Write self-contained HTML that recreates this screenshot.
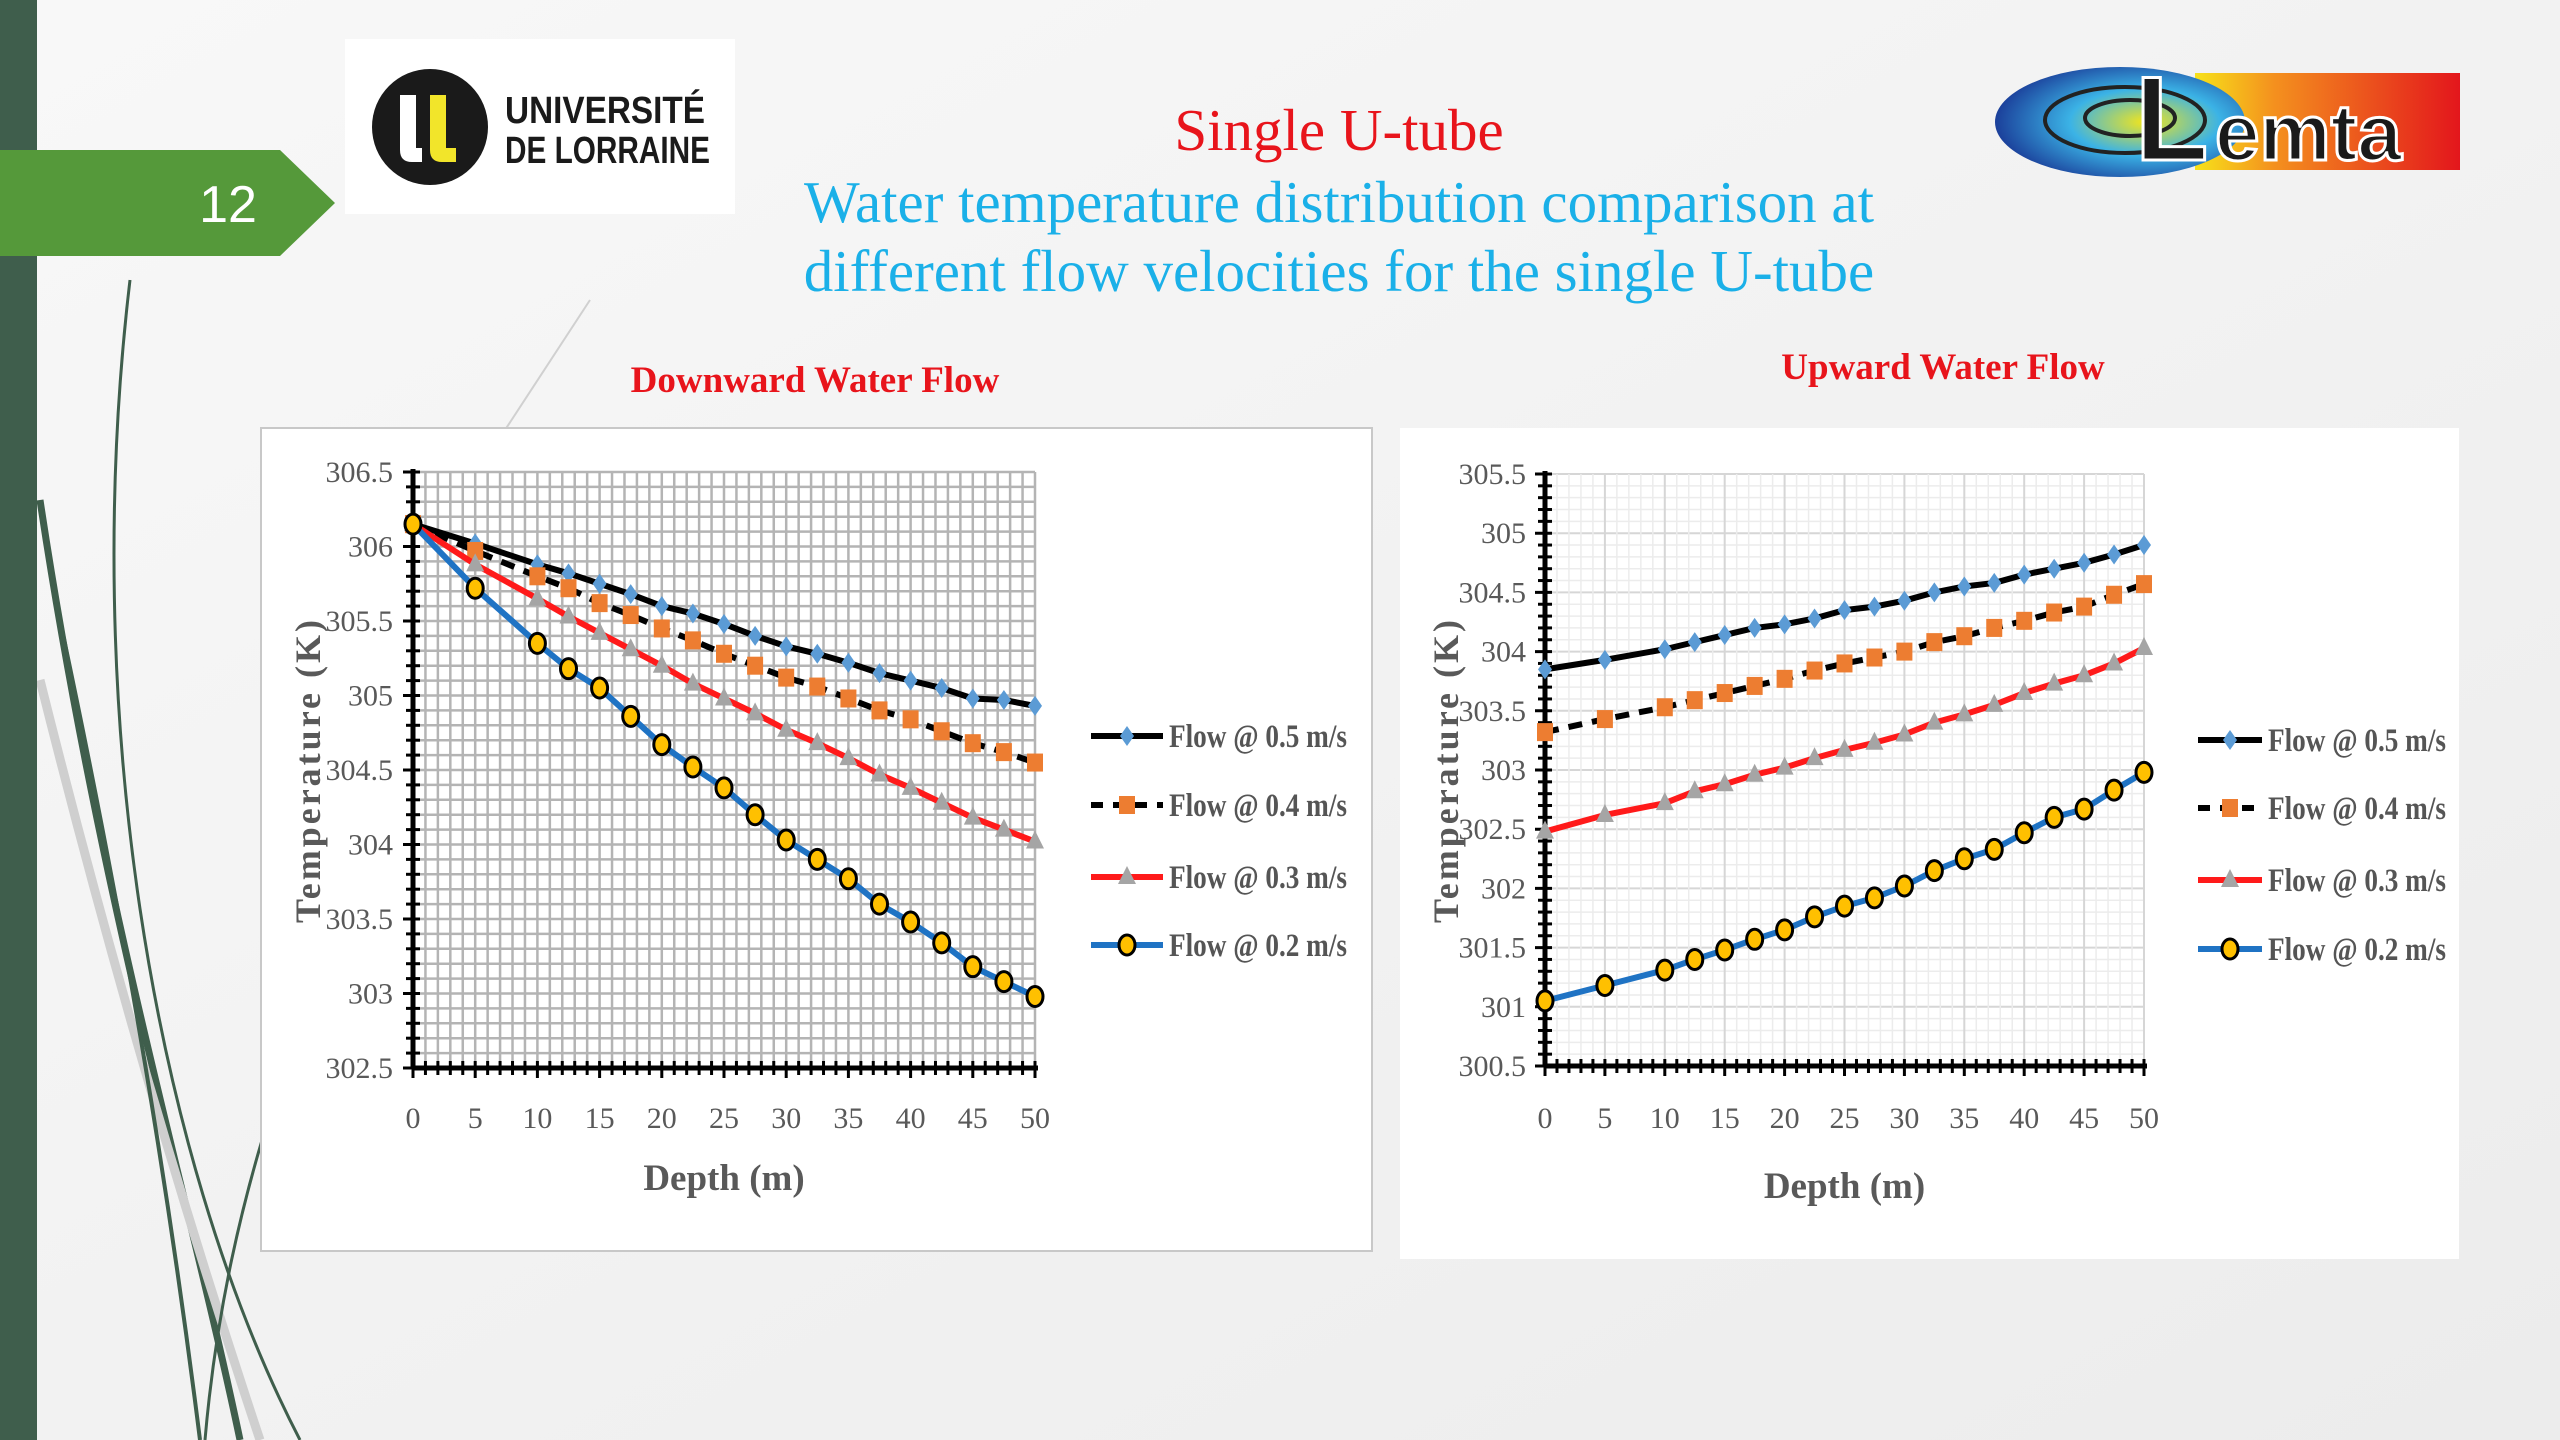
<!DOCTYPE html>
<html><head><meta charset="utf-8"><style>
html,body{margin:0;padding:0;width:2560px;height:1440px;overflow:hidden;background:#f3f3f3;font-family:"Liberation Serif",serif}
svg{position:absolute;left:0;top:0}
</style></head><body>
<svg id="s" width="2560" height="1440" viewBox="0 0 2560 1440" xmlns="http://www.w3.org/2000/svg">
<defs>
<linearGradient id="bg" x1="0" y1="0" x2="1" y2="1"><stop offset="0" stop-color="#f8f8f8"/><stop offset="1" stop-color="#ececec"/></linearGradient>
<linearGradient id="lem" x1="0" x2="1"><stop offset="0" stop-color="#f7e21a"/><stop offset="0.3" stop-color="#f4901e"/><stop offset="1" stop-color="#e3161c"/></linearGradient>
<radialGradient id="swirl" cx="0.6" cy="0.5" r="0.6"><stop offset="0" stop-color="#f2e51c"/><stop offset="0.5" stop-color="#3bb3e6"/><stop offset="1" stop-color="#1b3f9a"/></radialGradient>
</defs>
<rect width="2560" height="1440" fill="url(#bg)"/>
<g fill="none">
<path d="M130 280 C80 700,150 1150,300 1440" stroke="#3f5e4c" stroke-width="3"/>
<path d="M40 500 C100 900,190 1200,240 1440" stroke="#3f5e4c" stroke-width="7"/>
<path d="M40 680 C120 1000,200 1260,260 1440" stroke="#cfcfcf" stroke-width="9"/>
<path d="M60 620 C130 950,170 1200,200 1440" stroke="#3f5e4c" stroke-width="4"/>
<path d="M415 750 C330 950,230 1150,205 1440" stroke="#3f5e4c" stroke-width="3"/>
<path d="M590 300 L420 560" stroke="#d0d0d0" stroke-width="2"/>
</g>
<rect x="0" y="0" width="37" height="1440" fill="#3f5e4c"/>
<polygon points="0,150 280,150 335,203 280,256 0,256" fill="#55993a"/>
<text x="228" y="222" font-family="Liberation Sans,sans-serif" font-size="52" fill="#fff" text-anchor="middle">12</text>
<g>
<rect x="345" y="39" width="390" height="175" fill="#fff"/>
<circle cx="430" cy="127" r="58" fill="#1a1a1a"/>
<path d="M400 95 v55 q0 12 12 12 h10 v-14 h-6 v-53z" fill="#fff"/>
<path d="M430 95 v55 q0 12 12 12 h14 v-14 h-10 v-53z" fill="#f2e52a"/>
<text x="505" y="123" font-family="Liberation Sans,sans-serif" font-weight="bold" font-size="38" fill="#1a1a1a" textLength="200" lengthAdjust="spacingAndGlyphs">UNIVERSITÉ</text>
<text x="505" y="163" font-family="Liberation Sans,sans-serif" font-weight="bold" font-size="38" fill="#1a1a1a" textLength="205" lengthAdjust="spacingAndGlyphs">DE LORRAINE</text>
</g>
<g>
<rect x="2195" y="73" width="265" height="97" fill="url(#lem)"/>
<ellipse cx="2120" cy="122" rx="125" ry="55" fill="url(#swirl)"/>
<ellipse cx="2125" cy="120" rx="80" ry="33" fill="none" stroke="#222" stroke-width="4"/>
<ellipse cx="2130" cy="118" rx="45" ry="18" fill="none" stroke="#222" stroke-width="4"/>
<text x="2135" y="160" font-family="Liberation Sans,sans-serif" font-weight="bold" font-size="120" fill="#1a1a1a" stroke="#fff" stroke-width="3">L</text>
<text x="2215" y="160" font-family="Liberation Sans,sans-serif" font-weight="bold" font-size="80" fill="#1a1a1a" stroke="#fff" stroke-width="3">emta</text>
</g>
<text x="1339" y="150" font-size="59" fill="#e8141b" text-anchor="middle">Single U-tube</text>
<text x="1339" y="222" font-size="59" fill="#1ab0e8" text-anchor="middle">Water temperature distribution comparison at</text>
<text x="1339" y="291" font-size="59" fill="#1ab0e8" text-anchor="middle">different flow velocities for the single U-tube</text>
<text x="815" y="392" font-size="37" font-weight="bold" fill="#e8141b" text-anchor="middle">Downward Water Flow</text>
<text x="1943" y="379" font-size="37" font-weight="bold" fill="#e8141b" text-anchor="middle">Upward Water Flow</text>
<rect x="261" y="428" width="1111" height="823" fill="#fff" stroke="#c8c8c8" stroke-width="2"/>
<rect x="1400" y="428" width="1059" height="831" fill="#fff"/>
<g id="g1"></g><g id="g2"></g>
</svg>
<script>
const depths = [0,5,10,12.5,15,17.5,20,22.5,25,27.5,30,32.5,35,37.5,40,42.5,45,47.5,50];
const seriesNames = ["Flow @ 0.5 m/s","Flow @ 0.4 m/s","Flow @ 0.3 m/s","Flow @ 0.2 m/s"];
const down05 = [306.15,306.02,305.88,305.82,305.75,305.68,305.6,305.55,305.48,305.4,305.33,305.28,305.22,305.15,305.1,305.05,304.98,304.97,304.93];
const down04 = [306.15,305.97,305.8,305.72,305.62,305.54,305.45,305.37,305.28,305.2,305.12,305.06,304.98,304.9,304.84,304.76,304.68,304.62,304.55];
const down03 = [306.15,305.88,305.65,305.53,305.42,305.31,305.2,305.08,304.98,304.88,304.77,304.68,304.58,304.47,304.38,304.28,304.18,304.1,304.02];
const down02 = [306.15,305.72,305.35,305.18,305.05,304.86,304.67,304.52,304.38,304.2,304.03,303.9,303.77,303.6,303.48,303.34,303.18,303.08,302.98];
const up05 = [303.85,303.93,304.02,304.08,304.14,304.2,304.23,304.28,304.35,304.38,304.43,304.5,304.55,304.58,304.65,304.7,304.75,304.82,304.9];
const up04 = [303.32,303.43,303.53,303.59,303.65,303.71,303.77,303.84,303.9,303.95,304.0,304.08,304.13,304.2,304.26,304.33,304.38,304.48,304.57];
const up03 = [302.48,302.62,302.72,302.82,302.88,302.96,303.02,303.1,303.17,303.23,303.3,303.4,303.47,303.55,303.65,303.73,303.8,303.9,304.03];
const up02 = [301.05,301.18,301.31,301.4,301.48,301.57,301.65,301.76,301.85,301.92,302.02,302.15,302.25,302.33,302.47,302.6,302.67,302.83,302.98];
const xTicks = [0,5,10,15,20,25,30,35,40,45,50];
const downYTicks = ["302.5","303","303.5","304","304.5","305","305.5","306","306.5"];
const upYTicks = ["300.5","301","301.5","302","302.5","303","303.5","304","304.5","305","305.5"];

const NS="http://www.w3.org/2000/svg";
function mk(parent,tag,attrs,txt){const e=document.createElementNS(NS,tag);for(const k in attrs)e.setAttribute(k,attrs[k]);if(txt!==undefined)e.textContent=txt;parent.appendChild(e);return e;}

function chart(g,cfg,data,yTicks){
  const ymin=+yTicks[0], ymax=+yTicks[yTicks.length-1];
  const X=d=>cfg.x0+(d-0)*(cfg.x1-cfg.x0)/50;
  const Y=t=>cfg.y1-(t-ymin)*(cfg.y1-cfg.y0)/(ymax-ymin);
  const grid=mk(g,'g',{});
  
  
  const nRows=Math.round((ymax-ymin)/0.1);
  for(let i=0;i<=nRows;i++){const y=Y(ymin+i*0.1);const major=i%5===0;
    mk(grid,'line',{x1:X(0),x2:X(50),y1:y,y2:y,stroke:cfg.dense?'#b4b4b4':(major?'#d6d6d6':'#ececec'),'stroke-width':cfg.dense?2.5:(major?2:1.5)});}
  for(let d=0;d<=50;d++){const x=X(d);const major=d%5===0;
    mk(grid,'line',{x1:x,x2:x,y1:Y(ymin),y2:Y(ymax),stroke:cfg.dense?'#b4b4b4':(major?'#d6d6d6':'#ececec'),'stroke-width':cfg.dense?2.5:(major?2:1.5)});}
  const ax=mk(g,'g',{});
  
  
  mk(ax,'line',{x1:X(0),x2:X(50)+3,y1:Y(ymin),y2:Y(ymin),stroke:'#000','stroke-width':5});
  mk(ax,'line',{x1:X(0),x2:X(0),y1:Y(ymax)-3,y2:Y(ymin),stroke:'#000','stroke-width':5});
  for(let d=0;d<=50;d++){mk(ax,'line',{x1:X(d),x2:X(d),y1:Y(ymin)-7,y2:Y(ymin)+(d%5===0?10:7),stroke:'#000','stroke-width':3});}
  for(let i=0;i<=nRows;i++){const y=Y(ymin+i*0.1);mk(ax,'line',{x1:X(0)-(i%5===0?10:7),x2:X(0)+7,y1:y,y2:y,stroke:'#000','stroke-width':3});}
  for(const t of xTicks){const e=mk(ax,'text',{x:X(t),y:cfg.xlabY,'font-size':30,fill:'#595959','text-anchor':'middle'},String(t));
    
    }
  for(const t of yTicks){const e=mk(ax,'text',{x:cfg.ylabX,y:Y(+t)+10,'font-size':30,fill:'#595959','text-anchor':'end'},t);
    
    }
  const xt=mk(g,'text',{x:(X(0)+X(50))/2,y:cfg.xTitleY,'font-size':37,'font-weight':'bold',fill:'#595959','text-anchor':'middle'},'Depth (m)');
  
  
  const yt=mk(g,'text',{x:0,y:0,'font-size':36,'font-weight':'bold',fill:'#595959','text-anchor':'middle','letter-spacing':3,transform:`translate(${cfg.yTitleX},${(Y(ymin)+Y(ymax))/2}) rotate(-90)`},'Temperature (K)');
  
  
  const styles=[
    {stroke:'#000',dash:null,mark:'diamond',fill:'#5b9bd5'},
    {stroke:'#000',dash:'14 10',mark:'square',fill:'#ed7d31'},
    {stroke:'#ff1a1a',dash:null,mark:'triangle',fill:'#a5a5a5'},
    {stroke:'#1f73c4',dash:null,mark:'circle',fill:'#ffc000'}];
  function marker(p,type,x,y,fill){
    if(type==='diamond')return mk(p,'polygon',{points:`${x},${y-10} ${x+7},${y} ${x},${y+10} ${x-7},${y}`,fill:fill});
    if(type==='square')return mk(p,'rect',{x:x-8,y:y-9,width:16,height:18,fill:fill});
    if(type==='triangle')return mk(p,'polygon',{points:`${x},${y-11} ${x+9},${y+7} ${x-9},${y+7}`,fill:fill});
    return mk(p,'ellipse',{cx:x,cy:y,rx:8,ry:10,fill:fill,stroke:'#000','stroke-width':3});
  }
  data.forEach((vals,si)=>{
    const st=styles[si];
    const sg=mk(g,'g',{});
    
    
    const pts=depths.map((d,i)=>X(d)+','+Y(vals[i])).join(' ');
    const pl=mk(sg,'polyline',{points:pts,fill:'none',stroke:st.stroke,'stroke-width':6,'stroke-linejoin':'round'});
    if(st.dash)pl.setAttribute('stroke-dasharray',st.dash);
    depths.forEach((d,i)=>{const m=marker(sg,st.mark,X(d),Y(vals[i]),st.fill);
      
      });
    const lg=mk(g,'g',{});
    
    
    const ly=cfg.legY[si];
    const ll=mk(lg,'line',{x1:cfg.legX,x2:cfg.legX+cfg.legW,y1:ly,y2:ly,stroke:st.stroke,'stroke-width':6});
    if(st.dash)ll.setAttribute('stroke-dasharray','12 10');
    marker(lg,st.mark,cfg.legX+cfg.legW/2,ly,st.fill);
    mk(lg,'text',{x:cfg.legX+cfg.legW+6,y:ly+11,'font-size':33,'font-weight':'bold',fill:'#555',textLength:178,lengthAdjust:'spacingAndGlyphs'},seriesNames[si]);
  });
}
const g1=document.getElementById('g1');


const g2=document.getElementById('g2');


chart(g1,{x0:413,x1:1035,y0:472,y1:1068,dense:true,xlabY:1128,ylabX:393,xTitleY:1190,yTitleX:320,legX:1091,legW:72,legY:[736,805,877,945]},[down05,down04,down03,down02],downYTicks);
chart(g2,{x0:1545,x1:2144,y0:474,y1:1066,dense:false,xlabY:1128,ylabX:1526,xTitleY:1198,yTitleX:1458,legX:2198,legW:64,legY:[740,808,880,949]},[up05,up04,up03,up02],upYTicks);
</script>
</body></html>
